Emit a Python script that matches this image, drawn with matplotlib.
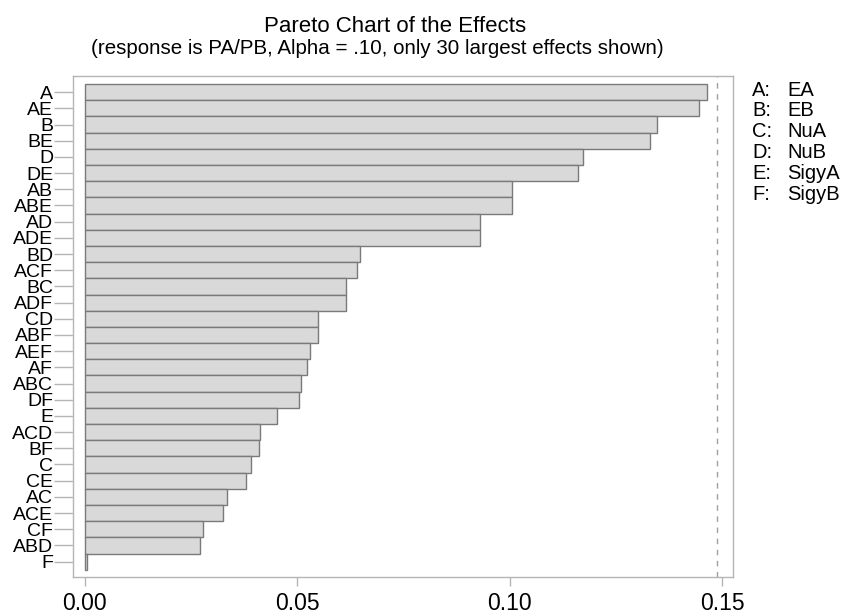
import matplotlib
matplotlib.use("Agg")
import matplotlib.pyplot as plt

plt.rcParams['font.family'] = ['Liberation Sans', 'DejaVu Sans']

terms = ["A", "AE", "B", "BE", "D", "DE", "AB", "ABE", "AD", "ADE",
         "BD", "ACF", "BC", "ADF", "CD", "ABF", "AEF", "AF", "ABC", "DF",
         "E", "ACD", "BF", "C", "CE", "AC", "ACE", "CF", "ABD", "F"]
effects = [0.1464, 0.1445, 0.1346, 0.1329, 0.1172, 0.1160, 0.1006, 0.1006, 0.0929, 0.0929,
           0.0648, 0.0641, 0.0615, 0.0615, 0.0548, 0.0548, 0.0530, 0.0523, 0.0508, 0.0504,
           0.0453, 0.0412, 0.0409, 0.0390, 0.0379, 0.0335, 0.0324, 0.0277, 0.0271, 0.0006]
reference_value = 0.1487
xticks = [0.00, 0.05, 0.10, 0.15]
factor_keys = ["A", "B", "C", "D", "E", "F"]
factor_names = ["EA", "EB", "NuA", "NuB", "SigyA", "SigyB"]

fig = plt.figure(figsize=(8.44, 6.15), dpi=100)
ax = fig.add_axes([73/844, 1-577/615, (733-73)/844, (577-76)/615])

ypos = list(range(len(terms)))
ax.barh(ypos, effects, height=1.0, color="#d9d9d9", edgecolor="#7a7a7a", linewidth=1.0)
ax.axvline(reference_value, color="#a0a0a0", linestyle=(0, (4, 4)), linewidth=1.0)

ax.set_ylim(len(terms) - 0.5 + 0.45, -1.0)
ax.set_xlim(-0.0028, 0.1525)
ax.set_yticks(ypos)
ax.set_yticklabels(terms, fontsize=14)
ax.set_xticks(xticks)
ax.set_xticklabels([f"{v:.2f}" for v in xticks], fontsize=16.5)

for s in ax.spines.values():
    s.set_color("#b5b5b5")
    s.set_linewidth(1.0)
ax.tick_params(axis='y', length=13.7, width=1.0, color="#b5b5b5", pad=0.5, labelcolor="black")
ax.tick_params(axis='x', length=6.5, width=1.0, color="#b5b5b5", pad=4, labelcolor="black")

fig.text(395/844, 1-27/615, "Pareto Chart of the Effects", ha="center", va="center", fontsize=16)
fig.text(377/844, 1-48/615, "(response is PA/PB, Alpha = .10, only 30 largest effects shown)",
         ha="center", va="center", fontsize=14.8)

for i, (k, n) in enumerate(zip(factor_keys, factor_names)):
    y = 1 - (90 + i * 20.8) / 615
    fig.text(752/844, y, f"{k}:", ha="left", va="center", fontsize=14.5)
    fig.text(787/844, y, n, ha="left", va="center", fontsize=14.5)

fig.savefig("out.png", dpi=100)
